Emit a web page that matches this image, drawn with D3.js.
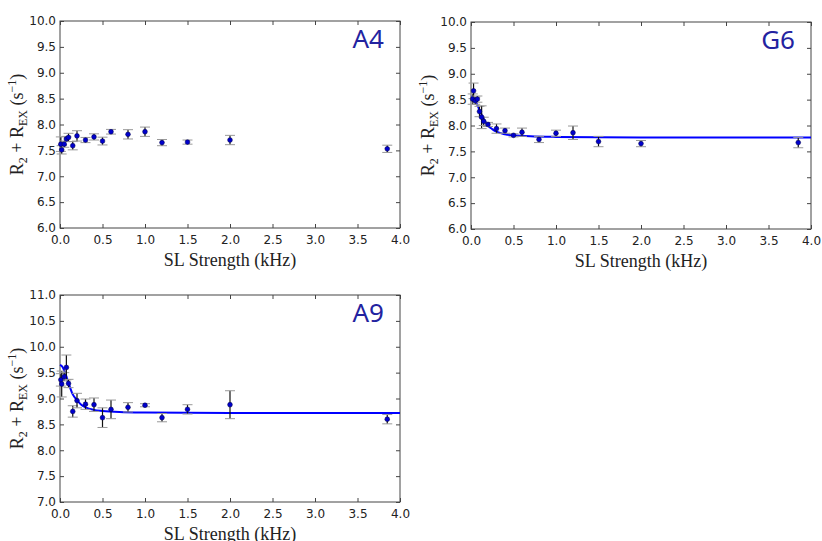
<!DOCTYPE html>
<html>
<head>
<meta charset="utf-8">
<script src="https://cdn.jsdelivr.net/npm/d3@7"></script>
<style>
  body { margin: 0; background: #fff; }
  .tick text { font-family: "DejaVu Sans", sans-serif; font-size: 12px; fill: #222; }
</style>
</head>
<body>
<div id="chart"></div>
<script>
// SL strength (kHz), R2+Rex (s^-1) and error bar half-length, per residue
const slA4  = [0.01, 0.02, 0.05, 0.075, 0.1, 0.15, 0.2, 0.3, 0.4, 0.5, 0.6, 0.8, 1.0, 1.2, 1.5, 2.0, 3.85];
const rA4   = [7.62, 7.51, 7.62, 7.72, 7.75, 7.59, 7.78, 7.70, 7.76, 7.68, 7.86, 7.81, 7.86, 7.65, 7.66, 7.70, 7.53];
const errA4 = [0.14, 0.08, 0.06, 0.05, 0.08, 0.08, 0.10, 0.05, 0.06, 0.075, 0.045, 0.09, 0.09, 0.06, 0.04, 0.09, 0.07];

const slG6  = [0.02, 0.03, 0.05, 0.075, 0.1, 0.125, 0.15, 0.2, 0.3, 0.4, 0.5, 0.6, 0.8, 1.0, 1.2, 1.5, 2.0, 3.85];
const rG6   = [8.51, 8.67, 8.48, 8.51, 8.27, 8.16, 8.08, 8.02, 7.94, 7.90, 7.81, 7.87, 7.73, 7.85, 7.86, 7.69, 7.65, 7.67];
const errG6 = [0.10, 0.15, 0.07, 0.06, 0.10, 0.22, 0.08, 0.04, 0.09, 0.05, 0.03, 0.08, 0.06, 0.06, 0.13, 0.10, 0.06, 0.10];

const slA9  = [0.01, 0.02, 0.05, 0.075, 0.1, 0.15, 0.2, 0.3, 0.4, 0.5, 0.6, 0.8, 1.0, 1.2, 1.5, 2.0, 3.85];
const rA9   = [9.36, 9.28, 9.42, 9.60, 9.29, 8.75, 8.96, 8.89, 8.88, 8.63, 8.79, 8.83, 8.87, 8.63, 8.79, 8.88, 8.60];
const errA9 = [0.12, 0.25, 0.08, 0.24, 0.08, 0.11, 0.14, 0.10, 0.13, 0.19, 0.18, 0.09, 0.03, 0.08, 0.09, 0.27, 0.09];

// fitted dispersion curves
const fitX   = [0, 0.03, 0.06, 0.1, 0.15, 0.2, 0.25, 0.3, 0.4, 0.5, 0.7, 1.0, 2.0, 4.0];
const fitG6  = [8.56, 8.53, 8.45, 8.30, 8.12, 8.00, 7.93, 7.88, 7.83, 7.81, 7.79, 7.78, 7.77, 7.77];
const fitA9  = [9.65, 9.61, 9.50, 9.30, 9.08, 8.97, 8.88, 8.83, 8.78, 8.76, 8.74, 8.73, 8.72, 8.72];

const xTicks = d3.range(0, 4.01, 0.5);

const serif = "'Liberation Serif', 'Times New Roman', serif";

const svg = d3.select("#chart").append("svg")
    .attr("width", 822)
    .attr("height", 541);

const W = 340, H = 207;

function drawPanel(left, top, name, sl, r, err, yDomain, fitY) {
    const g = svg.append("g").attr("transform", `translate(${left},${top})`);
    const x = d3.scaleLinear().domain([0, 4]).range([0, W]);
    const y = d3.scaleLinear().domain(yDomain).range([H, 0]);
    const yTicks = d3.range(yDomain[0], yDomain[1] + 0.01, 0.5);

    g.append("rect")
        .attr("width", W).attr("height", H)
        .attr("fill", "none").attr("stroke", "#444").attr("stroke-width", 1);

    const fmt = d3.format(".1f");
    g.append("g").attr("transform", `translate(0,${H})`)
        .call(d3.axisBottom(x).tickValues(xTicks).tickFormat(fmt).tickSizeInner(-4).tickSizeOuter(0).tickPadding(7));
    g.append("g")
        .call(d3.axisLeft(y).tickValues(yTicks).tickFormat(fmt).tickSizeInner(-4).tickSizeOuter(0).tickPadding(4));
    g.append("g")
        .call(d3.axisTop(x).tickValues(xTicks).tickFormat("").tickSizeInner(-4).tickSizeOuter(0));
    g.append("g").attr("transform", `translate(${W},0)`)
        .call(d3.axisRight(y).tickValues(yTicks).tickFormat("").tickSizeInner(-4).tickSizeOuter(0));
    g.selectAll(".domain").remove();
    g.selectAll(".tick line").attr("stroke", "#444");

    if (fitY) {
        const line = d3.line()
            .x((d, i) => x(fitX[i]))
            .y(d => y(d))
            .curve(d3.curveMonotoneX);
        g.append("path")
            .datum(fitY)
            .attr("d", line)
            .attr("fill", "none")
            .attr("stroke", "#0000ff")
            .attr("stroke-width", 2);
    }

    const pts = sl.map((v, i) => ({ x: v, y: r[i], e: err[i] }));
    const eb = g.selectAll(".eb").data(pts).enter().append("g").attr("class", "eb");
    eb.append("line")
        .attr("x1", d => x(d.x)).attr("x2", d => x(d.x))
        .attr("y1", d => y(d.y - d.e)).attr("y2", d => y(d.y + d.e))
        .attr("stroke", "#111").attr("stroke-width", 1.2);
    [-1, 1].forEach(s => {
        eb.append("line")
            .attr("x1", d => x(d.x) - 5).attr("x2", d => x(d.x) + 5)
            .attr("y1", d => y(d.y + s * d.e)).attr("y2", d => y(d.y + s * d.e))
            .attr("stroke", "#999").attr("stroke-width", 1);
    });
    g.selectAll(".pt").data(pts).enter().append("circle")
        .attr("class", "pt")
        .attr("cx", d => x(d.x)).attr("cy", d => y(d.y))
        .attr("r", 2.4)
        .attr("fill", "#0000cc").attr("stroke", "#000044").attr("stroke-width", 0.5);

    g.append("text")
        .attr("x", W - 16).attr("y", 27)
        .attr("text-anchor", "end")
        .style("font-family", "'Noto Sans', Lato, sans-serif")
        .style("font-size", "26px")
        .style("fill", "#2323a0")
        .text(name);

    g.append("text")
        .attr("x", W / 2).attr("y", H + 38)
        .attr("text-anchor", "middle")
        .style("font-family", serif).style("font-size", "18px").style("fill", "#222")
        .text("SL Strength (kHz)");

    const yl = g.append("text")
        .attr("transform", `translate(${-37},${H / 2}) rotate(-90)`)
        .attr("text-anchor", "middle")
        .style("font-family", serif).style("font-size", "18px").style("fill", "#222");
    yl.append("tspan").text("R");
    yl.append("tspan").style("font-size", "12px").attr("dy", 4).text("2");
    yl.append("tspan").attr("dy", -4).text(" + R");
    yl.append("tspan").style("font-size", "12px").attr("dy", 4).text("EX");
    yl.append("tspan").attr("dy", -4).text(" (s");
    yl.append("tspan").style("font-size", "12px").attr("dy", -7).text("\u22121");
    yl.append("tspan").attr("dy", 7).text(")");
}

drawPanel(60, 21, "A4", slA4, rA4, errA4, [6, 10], null);
drawPanel(471, 22, "G6", slG6, rG6, errG6, [6, 10], fitG6);
drawPanel(60, 295, "A9", slA9, rA9, errA9, [7, 11], fitA9);
</script>
</body>
</html>
